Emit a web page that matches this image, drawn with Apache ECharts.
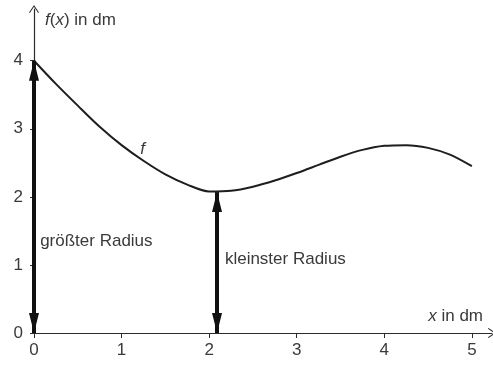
<!DOCTYPE html>
<html>
<head>
<meta charset="utf-8">
<script src="https://cdn.jsdelivr.net/npm/echarts@6/dist/echarts.min.js"></script>
<style>
  html, body { margin: 0; padding: 0; background: #fff; }
  #chart { width: 493px; height: 366px; }
</style>
</head>
<body>
<div id="chart"></div>
<script>
// Curve f(x): sampled points (x in dm, f(x) in dm)
const xValues = [0, 0.25, 0.5, 0.75, 1.0, 1.25, 1.5, 1.75, 2.0, 2.25, 2.5, 2.75, 3.0, 3.25, 3.5, 3.75, 4.0, 4.25, 4.5, 4.75, 5.0];
const fValues = [4.0, 3.66, 3.34, 3.03, 2.76, 2.53, 2.33, 2.18, 2.08, 2.09, 2.15, 2.24, 2.35, 2.47, 2.59, 2.69, 2.75, 2.76, 2.72, 2.62, 2.45];

// Tick labels on both axes
const xTicks = [0, 1, 2, 3, 4, 5];
const yTicks = [0, 1, 2, 3, 4];

// Radius arrows: [x, top value]
const largestRadius = [0, 4.0];
const smallestRadius = [2.09, 2.07];

const FONT = 'Liberation Sans, Arial, sans-serif';
const TEXT = '#3a3a3a';
const AXIS = '#2a2a2a';

// open chevron arrow head for the axis ends
const chevron = 'path://M0,0 L6,9 L5,9.8 L0,2.3 L-5,9.8 L-6,9 Z';
// solid triangular head whose tip sits at the centre of its box
// (the second, empty sub-path only pads the box on the outer side)
const solidHead = 'path://M0,20 L5,40 L-5,40 Z M0,0 L0,0 Z';

const chart = echarts.init(document.getElementById('chart'));

chart.setOption({
  animation: false,
  backgroundColor: '#fff',
  grid: { left: 34, top: 9, width: 458, height: 324, containLabel: false },
  xAxis: {
    type: 'value', min: 0, max: 5.23,
    axisLine: { show: true, onZero: false, lineStyle: { color: AXIS, width: 1.2 },
      symbol: ['none', chevron], symbolSize: [10, 10] },
    axisTick: { show: true, customValues: xTicks, length: 5, lineStyle: { color: AXIS, width: 1 } },
    axisLabel: { customValues: xTicks, color: TEXT, fontFamily: FONT, fontSize: 17, margin: 9 },
    splitLine: { show: false }
  },
  yAxis: {
    type: 'value', min: 0, max: 4.76,
    axisLine: { show: true, onZero: false, lineStyle: { color: AXIS, width: 1.2 },
      symbol: ['none', chevron], symbolSize: [10, 10] },
    axisTick: { show: true, customValues: yTicks, length: 4, lineStyle: { color: AXIS, width: 1 } },
    axisLabel: { customValues: yTicks, color: TEXT, fontFamily: FONT, fontSize: 17, margin: 11 },
    splitLine: { show: false }
  },
  series: [{
    type: 'line',
    data: xValues.map((x, i) => [x, fValues[i]]),
    smooth: 0.3,
    showSymbol: false,
    lineStyle: { color: '#1e1e1e', width: 2 },
    z: 3,
    markLine: {
      silent: true,
      symbol: [solidHead, solidHead],
      symbolSize: [10, 40],
      lineStyle: { color: '#111', width: 4, type: 'solid' },
      label: { show: false },
      data: [
        [{ coord: [largestRadius[0], 0] }, { coord: [largestRadius[0], largestRadius[1]] }],
        [{ coord: [smallestRadius[0], 0] }, { coord: [smallestRadius[0], smallestRadius[1]] }]
      ]
    },
    markPoint: {
      silent: true,
      symbol: 'circle', symbolSize: 0,
      data: [
        { coord: [1.24, 2.70], label: { formatter: 'f', fontStyle: 'italic' } },
        { coord: [0.07, 1.35], label: { formatter: 'größter Radius', align: 'left' } },
        { coord: [2.18, 1.08], label: { formatter: 'kleinster Radius', align: 'left' } }
      ],
      label: { show: true, position: 'inside', color: TEXT, fontFamily: FONT, fontSize: 17 }
    }
  }],
  graphic: [
    {
      type: 'text', left: 45, top: 12,
      style: {
        text: '{i|f}({i|x}) in dm',
        rich: { i: { fontStyle: 'italic', fontFamily: FONT, fontSize: 17, fill: TEXT } },
        font: '17px ' + FONT, fill: TEXT
      }
    },
    {
      type: 'text', right: 10, top: 308,
      style: {
        text: '{i|x} in dm',
        rich: { i: { fontStyle: 'italic', fontFamily: FONT, fontSize: 17, fill: TEXT } },
        font: '17px ' + FONT, fill: TEXT
      }
    }
  ]
});
</script>
</body>
</html>
